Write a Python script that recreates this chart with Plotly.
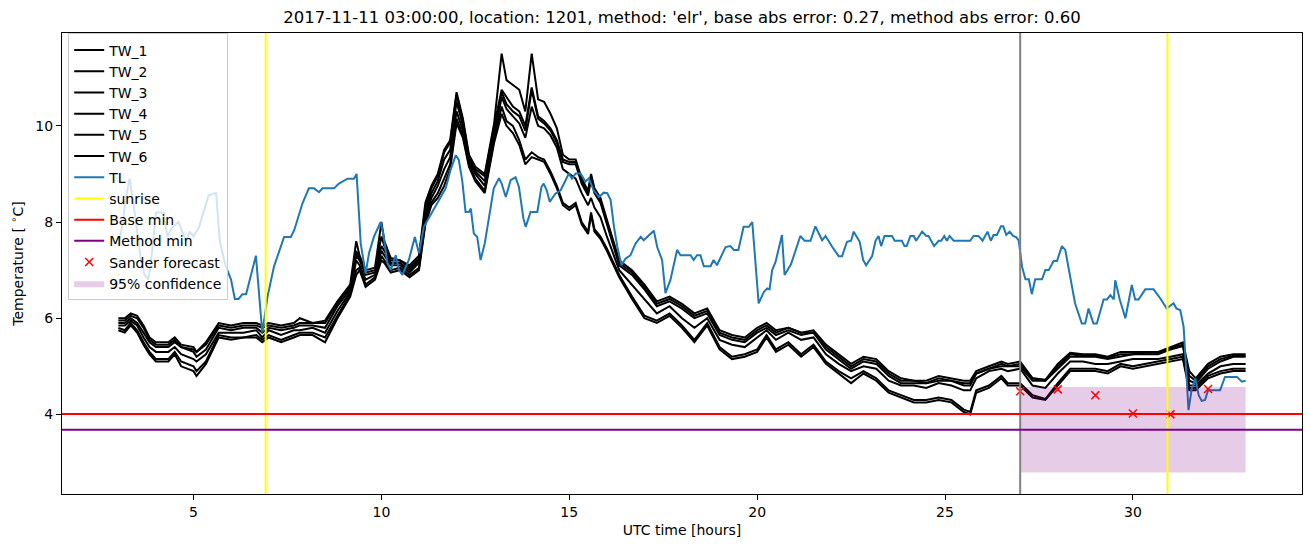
import plotly.graph_objects as go

# ---------------- data ----------------
tl_hours = [3.0, 3.1, 3.2, 3.3, 3.4, 3.5, 3.6, 3.7, 3.8, 3.9, 4.0, 4.2, 4.3, 4.45, 4.6, 4.7, 4.8, 4.9, 5.0, 5.15,
            5.4, 5.55, 5.6, 5.7, 5.85, 6.0, 6.1, 6.2, 6.3, 6.4, 6.66, 6.83, 6.97, 7.14, 7.41, 7.59, 7.68, 7.9, 8.07, 8.21,
            8.34, 8.43, 8.74, 8.87, 9.1, 9.27, 9.34, 9.45, 9.54, 9.58, 9.67, 9.8, 9.98, 10.05, 10.16, 10.25, 10.38, 10.47, 10.56, 10.73,
            10.89, 11.0, 11.13, 11.31, 11.49, 11.71, 11.84, 11.98, 12.06, 12.15, 12.24, 12.33, 12.38, 12.46, 12.55, 12.64, 12.75, 12.86, 12.99, 13.13,
            13.2, 13.31, 13.44, 13.57, 13.66, 13.78, 13.84, 13.97, 14.15, 14.26, 14.32, 14.4, 14.48, 14.63, 14.77, 14.99, 15.07, 15.17, 15.3, 15.43,
            15.52, 15.65, 15.79, 15.92, 16.01, 16.1, 16.19, 16.28, 16.39, 16.5, 16.63, 16.76, 16.9, 16.98, 17.25, 17.34, 17.47, 17.56, 17.69, 17.87,
            17.96, 18.23, 18.31, 18.4, 18.49, 18.58, 18.76, 18.84, 18.93, 19.16, 19.29, 19.38, 19.5, 19.64, 19.78, 19.87, 20.04, 20.18, 20.27, 20.33,
            20.4, 20.49, 20.66, 20.73, 20.9, 21.15, 21.26, 21.42, 21.55, 21.73, 21.82, 22.0, 22.17, 22.26, 22.39, 22.5, 22.57, 22.73, 22.82, 22.9,
            23.06, 23.15, 23.23, 23.3, 23.39, 23.59, 23.66, 23.85, 23.92, 23.98, 24.08, 24.17, 24.23, 24.39, 24.5, 24.56, 24.71, 24.83, 24.9, 24.98,
            25.05, 25.12, 25.23, 25.67, 25.76, 25.89, 26.0, 26.13, 26.22, 26.29, 26.38, 26.49, 26.55, 26.63, 26.72, 26.81, 26.9, 26.96, 27.05, 27.14,
            27.23, 27.31, 27.4, 27.58, 27.67, 27.76, 27.89, 27.98, 28.11, 28.2, 28.33, 28.46, 28.64, 28.73, 28.82, 28.95, 29.04, 29.22, 29.31, 29.4,
            29.49, 29.53, 29.65, 29.8, 29.97, 30.06, 30.15, 30.33, 30.55, 30.73, 30.9, 30.98, 31.08, 31.16, 31.26, 31.35, 31.39, 31.48, 31.57, 31.66,
            31.75, 31.83, 31.92, 32.0, 32.32, 32.45, 32.77, 32.9, 33.0]
tl_values = [7.5, 7.9, 8.5, 8.9, 8.4, 7.8, 7.2, 6.9, 6.8, 7.4, 8.2, 8.2, 7.7, 7.9, 8.0, 7.8, 7.6, 7.8, 7.7, 7.9,
             8.55, 8.6, 8.6, 7.6, 7.1, 6.8, 6.4, 6.4, 6.5, 6.5, 7.3, 5.7, 6.45, 7.07, 7.69, 7.69, 7.83, 8.39, 8.7, 8.7,
             8.62, 8.7, 8.7, 8.8, 8.9, 8.9, 9.0, 7.55, 7.07, 6.93, 7.35, 7.69, 8.0, 7.76, 7.14, 7.0, 7.31, 7.0, 6.9, 7.21,
             7.69, 7.35, 7.9, 8.14, 8.39, 8.7, 9.08, 9.39, 9.29, 8.87, 8.21, 8.21, 8.28, 7.76, 7.69, 7.21, 7.55, 8.1, 8.7, 8.91,
             8.8, 8.52, 8.87, 8.93, 8.73, 8.07, 7.9, 8.21, 8.21, 8.73, 8.8, 8.66, 8.42, 8.59, 8.66, 9.01, 8.9, 9.01, 9.01, 8.84,
             8.91, 8.66, 8.52, 8.61, 8.6, 8.46, 7.9, 7.48, 7.1, 7.24, 7.31, 7.55, 7.69, 7.62, 7.82, 7.48, 7.21, 6.52, 6.79, 7.42,
             7.31, 7.31, 7.21, 7.31, 7.31, 7.08, 7.08, 7.21, 7.1, 7.48, 7.5, 7.42, 7.42, 7.9, 7.9, 8.0, 6.31, 6.55, 6.62, 6.6,
             7.0, 7.17, 7.73, 6.9, 7.12, 7.71, 7.61, 7.61, 7.91, 7.62, 7.71, 7.48, 7.29, 7.29, 7.59, 7.61, 7.8, 7.59, 7.21, 7.1,
             7.29, 7.61, 7.71, 7.5, 7.71, 7.71, 7.61, 7.61, 7.5, 7.5, 7.71, 7.71, 7.61, 7.8, 7.71, 7.71, 7.5, 7.61, 7.61, 7.71,
             7.61, 7.71, 7.61, 7.61, 7.71, 7.71, 7.61, 7.8, 7.61, 7.73, 7.73, 7.91, 7.91, 7.73, 7.8, 7.71, 7.68, 7.62, 7.07, 6.81,
             6.81, 6.5, 6.81, 6.81, 7.0, 7.0, 7.19, 7.19, 7.5, 7.42, 6.86, 6.31, 5.89, 5.89, 6.2, 5.89, 5.89, 6.39, 6.39, 6.48,
             6.39, 6.79, 6.39, 6.0, 6.69, 6.39, 6.39, 6.6, 6.6, 6.41, 6.2, 6.25, 6.31, 6.2, 6.17, 5.82, 5.27, 4.09, 4.55, 4.75,
             4.4, 4.28, 4.3, 4.5, 4.5, 4.78, 4.78, 4.68, 4.7]

tw_hours = [3.0, 3.17, 3.33, 3.5, 3.67, 3.83, 4.0, 4.33, 4.5, 4.67, 5.0, 5.08, 5.33, 5.67, 6.0, 6.33, 6.67, 6.83, 7.0, 7.33,
            7.67, 7.83, 8.17, 8.5, 8.83, 9.17, 9.33, 9.42, 9.58, 9.83, 10.0, 10.08, 10.25, 10.5, 10.75, 11.0, 11.17, 11.33, 11.5, 11.67,
            11.83, 12.0, 12.17, 12.33, 12.5, 12.75, 13.0, 13.2, 13.33, 13.5, 13.67, 13.83, 14.0, 14.17, 14.33, 14.5, 14.67, 14.83, 15.0, 15.17,
            15.33, 15.5, 15.58, 15.67, 15.83, 16.0, 16.33, 16.67, 17.0, 17.33, 17.67, 18.0, 18.33, 18.67, 19.0, 19.33, 19.67, 20.0, 20.25, 20.5,
            20.83, 21.17, 21.5, 21.83, 22.17, 22.5, 22.83, 23.17, 23.5, 23.83, 24.17, 24.5, 24.83, 25.17, 25.5, 25.67, 25.83, 26.17, 26.5, 26.67,
            27.0, 27.33, 27.67, 28.0, 28.33, 28.67, 29.0, 29.33, 29.67, 30.0, 30.33, 30.67, 31.0, 31.33, 31.5, 31.67, 32.0, 32.33, 32.67, 33.0]

TW_1 = [6.0, 6.0, 6.1, 6.05, 5.85, 5.6, 5.5, 5.5, 5.6, 5.45,
        5.4, 5.3, 5.5, 5.9, 5.85, 5.9, 5.9, 5.85, 5.9, 5.85,
        5.9, 6.0, 5.9, 5.95, 6.35, 6.7, 7.6, 7.3, 7.0, 7.05,
        8.0, 7.6, 7.25, 7.2, 7.1, 7.3, 8.4, 8.75, 9.0, 9.5,
        9.7, 10.7, 10.15, 9.4, 9.15, 9.0, 10.05, 11.5, 10.95, 10.85,
        10.75, 10.3, 11.5, 10.55, 10.5, 10.25, 9.95, 9.4, 9.3, 9.3,
        8.9, 8.65, 9.0, 8.7, 8.5, 8.05, 7.2, 7.0, 6.7, 6.35,
        6.45, 6.3, 6.1, 6.2, 5.75, 5.65, 5.6, 5.8, 5.9, 5.75,
        5.8, 5.7, 5.75, 5.45, 5.25, 5.05, 5.2, 5.15, 4.9, 4.75,
        4.7, 4.7, 4.8, 4.75, 4.7, 4.7, 4.9, 5.0, 5.1, 5.05,
        5.1, 4.75, 4.72, 5.05, 5.28, 5.25, 5.25, 5.2, 5.3, 5.3,
        5.3, 5.3, 5.4, 5.5, 4.9, 4.75, 5.05, 5.2, 5.25, 5.25]
TW_2 = [5.95, 5.95, 6.05, 6.0, 5.8, 5.55, 5.45, 5.45, 5.55, 5.4,
        5.35, 5.3, 5.45, 5.85, 5.8, 5.85, 5.85, 5.8, 5.85, 5.8,
        5.85, 5.9, 5.9, 5.9, 6.3, 6.65, 7.4, 7.25, 6.95, 7.0,
        7.7, 7.5, 7.2, 7.2, 7.05, 7.25, 8.3, 8.7, 8.95, 9.45,
        9.65, 10.65, 10.1, 9.35, 9.1, 8.95, 10.0, 10.75, 10.6, 10.4,
        10.3, 10.0, 10.8, 10.2, 10.1, 9.95, 9.7, 9.3, 9.25, 9.25,
        8.85, 8.6, 8.95, 8.65, 8.45, 8.0, 7.15, 6.95, 6.65, 6.3,
        6.4, 6.25, 6.05, 6.15, 5.7, 5.6, 5.55, 5.75, 5.85, 5.7,
        5.8, 5.7, 5.7, 5.4, 5.2, 5.0, 5.15, 5.1, 4.85, 4.7,
        4.7, 4.65, 4.75, 4.7, 4.65, 4.65, 4.85, 4.95, 5.05, 5.0,
        5.05, 4.75, 4.7, 5.0, 5.25, 5.22, 5.22, 5.18, 5.25, 5.25,
        5.28, 5.28, 5.38, 5.45, 4.8, 4.7, 5.0, 5.15, 5.22, 5.22]
TW_3 = [5.9, 5.9, 6.0, 5.9, 5.7, 5.5, 5.4, 5.4, 5.5, 5.4,
        5.3, 5.2, 5.35, 5.8, 5.75, 5.8, 5.8, 5.7, 5.8, 5.75,
        5.8, 5.85, 5.85, 5.8, 6.25, 6.6, 7.3, 7.2, 6.9, 6.95,
        7.5, 7.4, 7.15, 7.15, 7.0, 7.2, 8.2, 8.6, 8.85, 9.3,
        9.5, 10.5, 10.0, 9.3, 9.05, 8.85, 9.9, 10.7, 10.45, 10.3,
        10.2, 9.9, 10.75, 10.15, 10.05, 9.9, 9.65, 9.25, 9.2, 9.2,
        8.8, 8.55, 8.9, 8.6, 8.4, 7.95, 7.1, 6.9, 6.6, 6.25,
        6.35, 6.2, 6.0, 6.1, 5.65, 5.55, 5.5, 5.7, 5.8, 5.65,
        5.75, 5.65, 5.7, 5.35, 5.15, 4.95, 5.1, 5.05, 4.8, 4.65,
        4.65, 4.65, 4.7, 4.7, 4.6, 4.6, 4.85, 4.95, 5.0, 5.0,
        5.0, 4.7, 4.7, 4.95, 5.2, 5.2, 5.2, 5.15, 5.2, 5.25,
        5.25, 5.25, 5.35, 5.42, 4.7, 4.65, 4.95, 5.1, 5.2, 5.2]
TW_4 = [5.85, 5.85, 5.95, 5.85, 5.6, 5.4, 5.3, 5.3, 5.4, 5.25,
        5.15, 5.1, 5.25, 5.7, 5.7, 5.7, 5.75, 5.6, 5.75, 5.65,
        5.75, 5.75, 5.8, 5.7, 6.15, 6.55, 7.2, 7.1, 6.8, 6.9,
        7.4, 7.3, 7.1, 7.1, 6.95, 7.15, 8.1, 8.5, 8.75, 9.1,
        9.35, 10.3, 9.9, 9.25, 9.0, 8.75, 9.8, 10.6, 10.35, 10.2,
        10.05, 9.75, 10.4, 10.0, 9.95, 9.8, 9.55, 9.1, 9.0, 8.9,
        8.6, 8.35, 8.5, 8.3, 8.1, 7.7, 7.0, 6.7, 6.4, 6.1,
        6.25, 6.0, 5.8, 6.0, 5.55, 5.45, 5.4, 5.6, 5.75, 5.55,
        5.7, 5.55, 5.6, 5.25, 5.05, 4.9, 5.0, 4.95, 4.7, 4.6,
        4.6, 4.55, 4.65, 4.6, 4.5, 4.5, 4.75, 4.9, 4.95, 4.9,
        4.95, 4.6, 4.55, 4.85, 5.1, 5.1, 5.05, 5.05, 5.1, 5.15,
        5.15, 5.15, 5.2, 5.25, 4.6, 4.6, 4.85, 5.0, 5.05, 5.05]
TW_5 = [5.8, 5.75, 5.9, 5.75, 5.5, 5.3, 5.15, 5.15, 5.3, 5.1,
        5.0, 4.9, 5.1, 5.65, 5.6, 5.6, 5.65, 5.55, 5.65, 5.55,
        5.65, 5.7, 5.7, 5.6, 6.05, 6.5, 7.0, 7.05, 6.7, 6.85,
        7.3, 7.2, 7.0, 7.05, 6.9, 7.05, 8.0, 8.4, 8.6, 8.9,
        9.2, 10.15, 9.8, 9.2, 8.9, 8.65, 9.7, 10.4, 10.1, 10.0,
        9.7, 9.3, 9.45, 9.35, 9.3, 9.05, 8.75, 8.4, 8.3, 8.4,
        8.0, 7.8, 8.2, 7.85, 7.7, 7.45, 6.9, 6.45, 6.05, 5.95,
        6.1, 5.85, 5.55, 5.9, 5.4, 5.2, 5.25, 5.35, 5.65, 5.35,
        5.5, 5.25, 5.45, 5.1, 4.9, 4.75, 4.9, 4.75, 4.5, 4.4,
        4.3, 4.3, 4.35, 4.3, 4.1, 4.05, 4.5, 4.6, 4.8, 4.65,
        4.65, 4.4, 4.32, 4.65, 4.95, 4.95, 4.95, 4.9, 5.05, 5.0,
        5.05, 5.1, 5.15, 5.2, 4.55, 4.55, 4.8, 4.9, 4.95, 4.95]
TW_6 = [5.75, 5.7, 5.85, 5.7, 5.45, 5.25, 5.1, 5.1, 5.25, 5.0,
        4.9, 4.8, 5.05, 5.6, 5.55, 5.6, 5.6, 5.5, 5.6, 5.5,
        5.6, 5.65, 5.65, 5.5, 6.0, 6.45, 6.9, 7.0, 6.65, 6.8,
        7.2, 7.15, 6.95, 7.0, 6.85, 7.0, 7.95, 8.35, 8.5, 8.75,
        9.1, 10.05, 9.75, 9.15, 8.85, 8.6, 9.65, 10.25, 10.0, 9.85,
        9.6, 9.2, 9.35, 9.3, 9.25, 9.0, 8.7, 8.35, 8.25, 8.35,
        7.95, 7.75, 8.15, 7.8, 7.65, 7.4, 6.85, 6.4, 6.0, 5.9,
        6.05, 5.8, 5.5, 5.85, 5.35, 5.15, 5.2, 5.3, 5.6, 5.3,
        5.45, 5.2, 5.4, 5.05, 4.85, 4.65, 4.85, 4.7, 4.45, 4.35,
        4.25, 4.25, 4.3, 4.25, 4.05, 4.0, 4.45, 4.55, 4.75, 4.6,
        4.6, 4.35, 4.3, 4.6, 4.9, 4.9, 4.9, 4.85, 5.0, 4.95,
        5.0, 5.05, 5.1, 5.15, 4.5, 4.5, 4.75, 4.85, 4.9, 4.9]

tw_series = {"TW_1": TW_1, "TW_2": TW_2, "TW_3": TW_3, "TW_4": TW_4, "TW_5": TW_5, "TW_6": TW_6}

sunrise_hours = [6.92, 30.92]
forecast_start = 27.0
base_min = 4.01
method_min = 3.68

sander_hours = [27, 28, 29, 30, 31, 32]
sander_values = [4.48, 4.52, 4.4, 4.02, 4.0, 4.53]

conf_hours = [27.0, 33.0]
conf_low = 2.79
conf_high = 4.57

title_text = "2017-11-11 03:00:00, location: 1201, method: 'elr', base abs error: 0.27, method abs error: 0.60"

assert len(tl_hours) == len(tl_values)
for k, v in tw_series.items():
    assert len(v) == len(tw_hours), (k, len(v), len(tw_hours))

# ---------------- figure ----------------
fig = go.Figure()
rank = 1
for name, vals in tw_series.items():
    fig.add_trace(go.Scatter(x=tw_hours, y=vals, mode="lines", name=name,
                             line=dict(color="black", width=2), legendgroup=name, legendrank=rank))
    rank += 1

fig.add_trace(go.Scatter(x=tl_hours, y=tl_values, mode="lines", name="TL",
                         line=dict(color="#1f77b4", width=2), legendgroup="TL", legendrank=7))

# confidence band
fig.add_trace(go.Scatter(x=[conf_hours[0], conf_hours[1], conf_hours[1], conf_hours[0]],
                         y=[conf_low, conf_low, conf_high, conf_high],
                         fill="toself", mode="lines", line=dict(width=0, color="rgba(128,0,128,0.2)"),
                         fillcolor="rgba(128,0,128,0.2)", name="95% confidence",
                         legendgroup="conf", legendrank=12))

fig.add_trace(go.Scatter(x=sander_hours, y=sander_values, mode="markers", name="Sander forecast",
                         marker=dict(symbol="x-thin", size=8, line=dict(color="red", width=1.5), color="red"),
                         legendgroup="sander", legendrank=11))

shapes = []
for i, s in enumerate(sunrise_hours):
    shapes.append(dict(type="line", xref="x", yref="paper", x0=s, x1=s, y0=0, y1=1,
                       line=dict(color="#ffff00", width=2), layer="above",
                       showlegend=(i == 0), name="sunrise", legendgroup="sunrise", legendrank=8))
shapes.append(dict(type="line", xref="x", yref="paper", x0=forecast_start, x1=forecast_start, y0=0, y1=1,
                   line=dict(color="#808080", width=2), layer="above", showlegend=False))
shapes.append(dict(type="line", xref="paper", yref="y", x0=0, x1=1, y0=base_min, y1=base_min,
                   line=dict(color="#ff0000", width=2), layer="above",
                   showlegend=True, name="Base min", legendgroup="base", legendrank=9))
shapes.append(dict(type="line", xref="paper", yref="y", x0=0, x1=1, y0=method_min, y1=method_min,
                   line=dict(color="#800080", width=2), layer="above",
                   showlegend=True, name="Method min", legendgroup="method", legendrank=10))

font_family = "DejaVu Sans"
fig.update_layout(
    width=1310, height=547,
    margin=dict(l=62, r=8, t=33, b=53),
    plot_bgcolor="white", paper_bgcolor="white",
    font=dict(family=font_family, size=14, color="black"),
    shapes=shapes,
    title=dict(text=title_text, x=0.5, xref="paper", xanchor="center",
               y=1 - 17 / 547, yref="container", yanchor="middle",
               font=dict(family=font_family, size=16.5, color="black")),
    showlegend=True,
    legend=dict(x=0.005, y=0.999, xanchor="left", yanchor="top",
                bgcolor="rgba(255,255,255,0.8)", bordercolor="#cccccc", borderwidth=1,
                font=dict(family=font_family, size=14, color="black"),
                tracegroupgap=2, traceorder="normal", itemwidth=30),
    xaxis=dict(range=[1.5, 34.5], tickvals=[5, 10, 15, 20, 25, 30], ticks="outside", ticklen=5, tickwidth=1,
               tickcolor="black", showline=True, linecolor="black", linewidth=1, mirror=True,
               showgrid=False, zeroline=False, title=dict(text="UTC time [hours]", standoff=6,
                                                          font=dict(family=font_family, size=14))),
    yaxis=dict(range=[2.345, 11.93], tickvals=[4, 6, 8, 10], ticks="outside", ticklen=5, tickwidth=1,
               tickcolor="black", showline=True, linecolor="black", linewidth=1, mirror=True,
               showgrid=False, zeroline=False,
               title=dict(text="Temperature [ <sup>∘</sup>C]", standoff=8,
                          font=dict(family=font_family, size=14))),
)

fig.write_html("out.html")
